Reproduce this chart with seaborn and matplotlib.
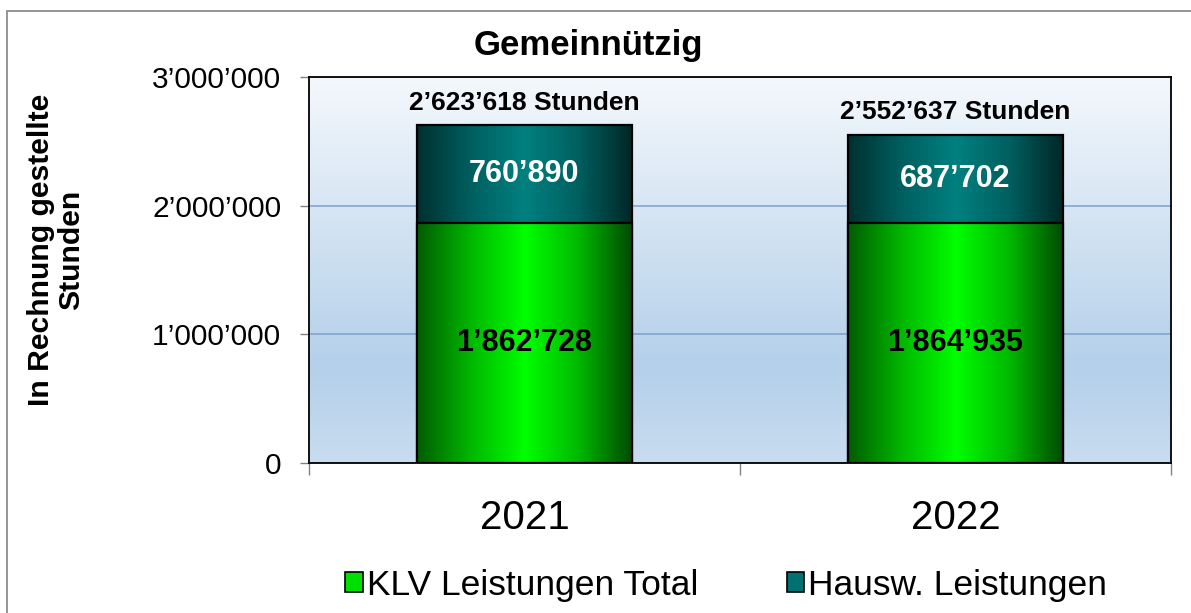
import numpy as np
import pandas as pd
import matplotlib
matplotlib.use("Agg")
import matplotlib.pyplot as plt
from matplotlib.colors import LinearSegmentedColormap
from matplotlib.patches import Patch, Rectangle
import seaborn as sns

# data
years = ["2021", "2022"]
klv = [1862728, 1864935]
hausw = [760890, 687702]
totals = [2623618, 2552637]
series_names = ["KLV Leistungen Total", "Hausw. Leistungen"]
y_ticks = [0, 1000000, 2000000, 3000000]


def fmt(v):
    return f"{v:,}".replace(",", "\u2019")


sns.set_style("white")
plt.rcParams["font.family"] = ["Liberation Sans", "DejaVu Sans"]
plt.rcParams["text.color"] = "black"

green_cmap = LinearSegmentedColormap.from_list(
    "g", ["#005c00", "#00b800", "#00ff00", "#00b800", "#004a00"])
teal_cmap = LinearSegmentedColormap.from_list(
    "t", ["#003030", "#005f5f", "#008080", "#005f5f", "#002626"])
bg_cmap = LinearSegmentedColormap.from_list(
    "bg", [(0.0, "#c8dcf0"), (0.25, "#b4d0ea"), (1.0, "#f4f8fc")])

fig = plt.figure(figsize=(11.91, 6.13), dpi=100)
ax = fig.add_axes([309 / 1191, 1 - 463 / 613, 862 / 1191, 386 / 613])

df = pd.DataFrame({"Jahr": years, "KLV": klv, "Hausw": hausw, "Total": totals})

# stacked bars: total (teal top part) then KLV on top of it
sns.barplot(data=df, x="Jahr", y="Total", color="#008080", width=0.5,
            edgecolor="black", linewidth=1.6, ax=ax)
sns.barplot(data=df, x="Jahr", y="KLV", color="#00ff00", width=0.5,
            edgecolor="black", linewidth=1.6, ax=ax)

grad = np.linspace(0, 1, 256).reshape(1, -1)
for i, p in enumerate(ax.patches):
    top_part = i < len(years)
    cmap = teal_cmap if top_part else green_cmap
    z = 2 if top_part else 3
    x0, y0, w, h = p.get_x(), p.get_y(), p.get_width(), p.get_height()
    ax.imshow(grad, cmap=cmap, extent=[x0, x0 + w, y0, y0 + h],
              aspect="auto", zorder=z - 0.1, interpolation="bicubic")
    p.set_facecolor("none")
    p.set_zorder(z)

# plot area background gradient
bg = np.linspace(0, 1, 256).reshape(-1, 1)
ax.imshow(bg, cmap=bg_cmap, extent=[0, 1, 0, 1], transform=ax.transAxes,
          aspect="auto", zorder=0, origin="lower")

# labels
for i in range(len(years)):
    ax.text(i, totals[i] - hausw[i] / 2, fmt(hausw[i]), ha="center", va="center",
            color="white", fontsize=22, fontweight="bold", zorder=5)
    ax.text(i, klv[i] / 2, fmt(klv[i]), ha="center", va="center",
            color="black", fontsize=22, fontweight="bold", zorder=5)
    ax.annotate(f"{fmt(totals[i])} Stunden", (i, totals[i]), xytext=(0, 16.5),
                textcoords="offset points", ha="center", va="center",
                fontsize=19, fontweight="bold", zorder=5)

ax.set_xlim(-0.5, 1.5)
ax.set_ylim(0, 3000000)
ax.set_yticks(y_ticks)
ax.set_yticklabels([fmt(v) for v in y_ticks], fontsize=21.5)
ax.set_xticks([0, 1])
ax.set_xticklabels(years, fontsize=29)
ax.set_xticks([-0.5, 0.5, 1.5], minor=True)
ax.tick_params(axis="x", which="major", length=0, pad=26, labelcolor="black")
ax.tick_params(axis="x", which="minor", length=8.6, width=1, color="#808080",
               direction="out", bottom=True)
ax.tick_params(axis="y", length=6.5, width=1, color="#808080", direction="out",
               left=True, pad=13.5, labelcolor="black")
ax.set_xlabel("")
ax.set_ylabel("")
ax.set_axisbelow(True)
ax.yaxis.grid(True, color="#7f9dd0", linewidth=1.1, zorder=0.5)
for s in ax.spines.values():
    s.set_color("black")
    s.set_linewidth(1.3)

fig.text(588 / 1191, 1 - 45 / 613, "Gemeinnützig", ha="center", va="center",
         fontsize=25, fontweight="bold")
fig.text(56 / 1191, 1 - 250 / 613, "In Rechnung gestellte\nStunden",
         rotation=90, ha="center", va="center", multialignment="center",
         fontsize=21.7, fontweight="bold", linespacing=1.12)

handles = [Patch(facecolor="#00e000", edgecolor="black", linewidth=1.2),
           Patch(facecolor="#007070", edgecolor="black", linewidth=1.2)]
fig.legend(handles, series_names, loc="center", bbox_to_anchor=(726 / 1191, 1 - 585 / 613),
           ncol=2, frameon=False, fontsize=25.5, handlelength=0.5, handleheight=0.5,
           handletextpad=0.1, columnspacing=2.5)

# outer chart frame
fig.patches.append(Rectangle((7 / 1191, -0.1), 1.1, 1.1 - 11 / 613, fill=False,
                             edgecolor="#8c8c8c", linewidth=1.3,
                             transform=fig.transFigure, figure=fig))

fig.savefig("out.png", dpi=100)
